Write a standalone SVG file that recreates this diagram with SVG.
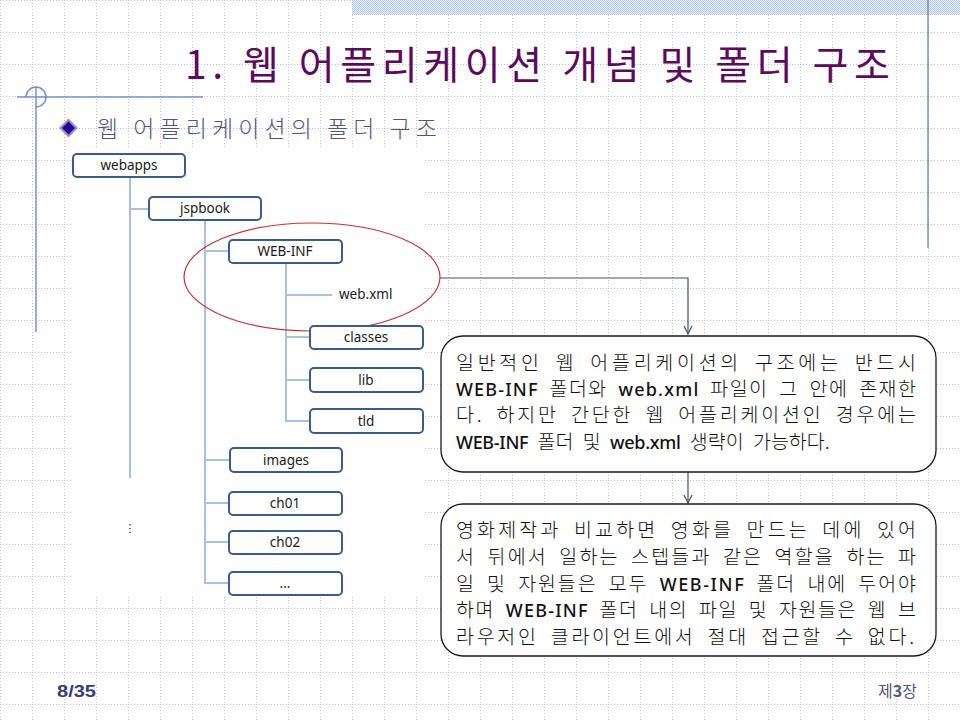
<svg xmlns="http://www.w3.org/2000/svg" width="960" height="720" viewBox="0 0 960 720">
  <defs>
    <!-- dotted layout grid, 32px cells -->
    <pattern id="grid" patternUnits="userSpaceOnUse" x="0" y="0" width="32" height="32">
      <path d="M0 0.5 H32 M0.5 0 V32" fill="none" stroke="#b4c0e6" stroke-width="1" stroke-dasharray="1 2"/>
    </pattern>
    <!-- fine checker for the header band -->
    <pattern id="checker" patternUnits="userSpaceOnUse" x="0" y="0" width="2" height="2">
      <rect width="2" height="2" fill="#e4ebf7"/>
      <rect width="1" height="1" fill="#b9c9e8"/>
      <rect x="1" y="1" width="1" height="1" fill="#b9c9e8"/>
    </pattern>
    <marker id="arrow" viewBox="0 0 10 10" refX="9" refY="5" markerWidth="10" markerHeight="10" markerUnits="userSpaceOnUse" orient="auto">
      <path d="M1 1 L9 5 L1 9" fill="none" stroke="#4a4a7a" stroke-width="1.2"/>
    </marker>
    <style>
      .tree { fill: none; stroke: #a9c1df; stroke-width: 2; }
      .folder rect { fill: #ffffff; stroke: #3b5b8c; stroke-width: 2; }
      .folder text, .leaf { font-family: "Noto Sans", "Liberation Sans", sans-serif; font-size: 13.5px; fill: #1a1a1a; text-anchor: middle; }
      .leaf { text-anchor: start; }
      .note rect { fill: #ffffff; stroke: #1a1a1a; stroke-width: 1.3; }
      .note text { font-family: "Noto Sans CJK KR", "Noto Sans", sans-serif; font-size: 19.5px; font-weight: 300; word-spacing: 5px; fill: #111111; }
      .latin { font-family: "Noto Sans", "Liberation Sans", sans-serif; font-size: 18px; font-weight: 500; letter-spacing: -0.3px; }
      .link { fill: none; stroke: #4a4a7a; stroke-width: 1.2; }
      .deco { stroke: #7c8cc8; stroke-width: 1.5; fill: none; }
    </style>
  </defs>

  <!-- page background -->
  <rect width="960" height="720" fill="#ffffff"/>
  <rect width="960" height="720" fill="url(#grid)"/>
  <rect x="352" y="0" width="608" height="15" fill="url(#checker)"/>

  <!-- frame ornaments -->
  <g id="ornaments">
    <line class="deco" x1="928" y1="0" x2="928" y2="248"/>
    <line class="deco" x1="17" y1="97" x2="203" y2="97"/>
    <line class="deco" x1="36" y1="87" x2="36" y2="332"/>
    <path class="deco" d="M26 97 A10 10 0 1 1 36 107" stroke-width="1.2"/>
  </g>

  <!-- title -->
  <text x="185" y="79" font-family="Noto Sans CJK KR, Noto Sans, sans-serif" font-size="39" fill="#5c0a5c" textLength="705" lengthAdjust="spacing">1. 웹 어플리케이션 개념 및 폴더 구조</text>

  <!-- subtitle with bullet -->
  <g id="subtitle">
    <path d="M68.5 118.5 L78 128 L68.5 137.5 L59 128 Z" fill="#9a8ccc"/>
    <path d="M68.5 121.5 L75 128 L68.5 134.5 L62 128 Z" fill="#2a0a8c"/>
    <text x="97" y="137" font-family="Noto Sans CJK KR, Noto Sans, sans-serif" font-size="23" font-weight="300" fill="#55557a" textLength="340" lengthAdjust="spacing">웹 어플리케이션의 폴더 구조</text>
  </g>

  <!-- white panel behind the folder tree -->
  <rect x="72" y="148" width="352" height="447" fill="#ffffff"/>

  <!-- connectors -->
  <g id="connectors">
    <path class="tree" d="M130 177 V478"/>
    <path class="tree" d="M130 209 H149"/>
    <path class="tree" d="M205 220 V583 H229"/>
    <path class="tree" d="M205 251 H229"/>
    <path class="tree" d="M205 460 H230"/>
    <path class="tree" d="M205 503 H229"/>
    <path class="tree" d="M205 542 H229"/>
    <path class="tree" d="M286 263 V421 H310"/>
    <path class="tree" d="M286 295 H332"/>
    <path class="tree" d="M286 337 H310"/>
    <path class="tree" d="M286 380 H310"/>
    <ellipse cx="312" cy="277" rx="128" ry="54" fill="none" stroke="#c23434" stroke-width="1.2"/>
    <path class="link" d="M440 278 H688 V334" marker-end="url(#arrow)"/>
    <path class="link" d="M688 472 V503" marker-end="url(#arrow)"/>
  </g>

  <!-- folder nodes -->
  <g id="node-webapps" class="folder"><rect x="73" y="154" width="112" height="23" rx="4"/><text x="129" y="170">webapps</text></g>
  <g id="node-jspbook" class="folder"><rect x="149" y="197" width="112" height="23" rx="4"/><text x="205" y="213">jspbook</text></g>
  <g id="node-webinf" class="folder"><rect x="229" y="240" width="113" height="23" rx="4"/><text x="285" y="256">WEB-INF</text></g>
  <g id="node-webxml"><text class="leaf" x="339" y="299">web.xml</text></g>
  <g id="node-classes" class="folder"><rect x="310" y="326" width="113" height="23" rx="4"/><text x="366" y="342">classes</text></g>
  <g id="node-lib" class="folder"><rect x="310" y="368" width="113" height="24" rx="4"/><text x="366" y="385">lib</text></g>
  <g id="node-tld" class="folder"><rect x="310" y="409" width="113" height="24" rx="4"/><text x="366" y="426">tld</text></g>
  <g id="node-images" class="folder"><rect x="230" y="448" width="112" height="24" rx="4"/><text x="286" y="465">images</text></g>
  <g id="node-ch01" class="folder"><rect x="229" y="492" width="113" height="23" rx="4"/><text x="285" y="508">ch01</text></g>
  <g id="node-ch02" class="folder"><rect x="229" y="531" width="113" height="23" rx="4"/><text x="285" y="547">ch02</text></g>
  <g id="node-more" class="folder"><rect x="229" y="572" width="113" height="23" rx="4"/><text x="285" y="588">...</text></g>
  <g id="node-vdots"><text x="130" y="532" font-family="DejaVu Sans, sans-serif" font-size="11" fill="#222222" text-anchor="middle">⋮</text></g>

  <!-- explanatory notes -->
  <g id="note-structure" class="note">
    <rect x="441" y="336" width="495" height="136" rx="22"/>
    <text x="456" y="370" textLength="460" lengthAdjust="spacing">일반적인 웹 어플리케이션의 구조에는 반드시</text>
    <text x="456" y="396" textLength="460" lengthAdjust="spacing"><tspan class="latin">WEB-INF</tspan> 폴더와 <tspan class="latin">web.xml</tspan> 파일이 그 안에 존재한</text>
    <text x="456" y="422" textLength="460" lengthAdjust="spacing">다. 하지만 간단한 웹 어플리케이션인 경우에는</text>
    <text x="456" y="449"><tspan class="latin">WEB-INF</tspan> 폴더 및 <tspan class="latin">web.xml</tspan> 생략이 가능하다.</text>
  </g>
  <g id="note-webinf" class="note">
    <rect x="441" y="504" width="495" height="152" rx="22"/>
    <text x="456" y="537" textLength="460" lengthAdjust="spacing">영화제작과 비교하면 영화를 만드는 데에 있어</text>
    <text x="456" y="564" textLength="460" lengthAdjust="spacing">서 뒤에서 일하는 스텝들과 같은 역할을 하는 파</text>
    <text x="456" y="591" textLength="460" lengthAdjust="spacing">일 및 자원들은 모두 <tspan class="latin">WEB-INF</tspan> 폴더 내에 두어야</text>
    <text x="456" y="617" textLength="460" lengthAdjust="spacing">하며 <tspan class="latin">WEB-INF</tspan> 폴더 내의 파일 및 자원들은 웹 브</text>
    <text x="456" y="644" textLength="458" lengthAdjust="spacing">라우저인 클라이언트에서 절대 접근할 수 없다.</text>
  </g>

  <!-- footer -->
  <text x="57" y="697" font-family="Liberation Sans Narrow, Liberation Sans, sans-serif" font-size="17" font-weight="bold" fill="#3a3a78" textLength="39" lengthAdjust="spacingAndGlyphs">8/35</text>
  <text x="917" y="697" font-family="Noto Sans CJK KR, sans-serif" font-size="16" fill="#55557a" text-anchor="end">제<tspan font-weight="bold">3</tspan>장</text>
</svg>
